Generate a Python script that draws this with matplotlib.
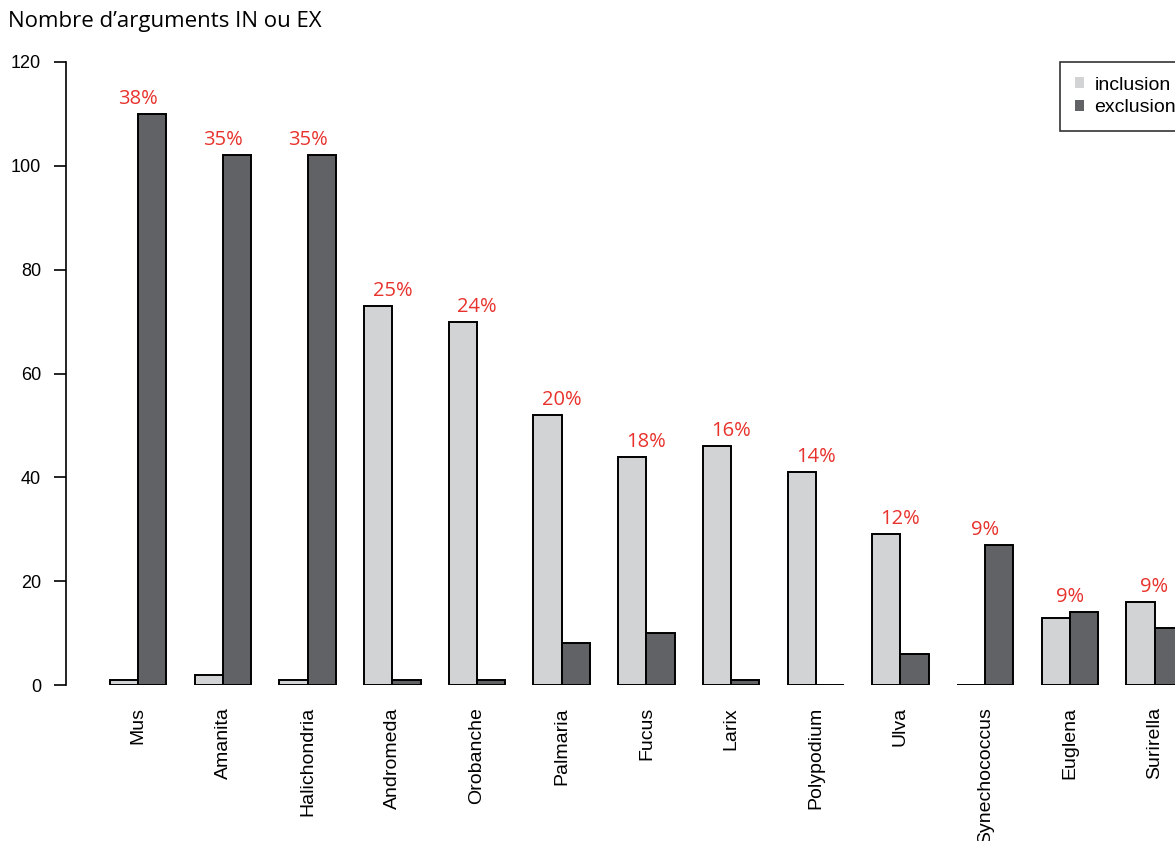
import numpy as np
import matplotlib.pyplot as plt
from matplotlib.patches import Patch

genres = ["Mus", "Amanita", "Halichondria", "Andromeda", "Orobanche", "Palmaria",
          "Fucus", "Larix", "Polypodium", "Ulva", "Synechococcus", "Euglena", "Surirella"]
inclusion = [1, 2, 1, 73, 70, 52, 44, 46, 41, 29, 0, 13, 16]
exclusion = [110, 102, 102, 1, 1, 8, 10, 1, 0, 6, 27, 14, 11]
pourcents = ["38%", "35%", "35%", "25%", "24%", "20%", "18%", "16%", "14%", "12%", "9%", "9%", "9%"]

col_in = "#d2d3d5"
col_ex = "#616266"

W, H = 1175, 841
fig = plt.figure(figsize=(W / 100, H / 100), dpi=100)
ax = fig.add_axes([66 / W, 1 - 685 / H, (W - 66) / W, (685 - 62) / H])

n = len(genres)
x = np.arange(n) * 3 + 1  # comme barplot(beside=TRUE) de R, space=c(0,1)
ax.bar(x, inclusion, width=1, align="edge", color=col_in, edgecolor="black", linewidth=1.4)
ax.bar(x + 1, exclusion, width=1, align="edge", color=col_ex, edgecolor="black", linewidth=1.4)

for i in range(n):
    top = max(inclusion[i], exclusion[i])
    ax.text(x[i] + 1, top + 2.9, pourcents[i], color="#e8332d", fontsize=14.5,
            family="Open Sans", ha="center", va="center", clip_on=False)

ax.set_xlim(-0.56, (W - 81.8) / 28.23)
ax.set_ylim(0, 120)
ax.set_yticks(np.arange(0, 121, 20))
ax.tick_params(axis="y", length=9, width=1.2, pad=9, labelsize=13)
for lab in ax.get_yticklabels():
    lab.set_family("Liberation Sans")
ax.set_xticks(x + 1)
ax.set_xticklabels(genres, rotation=90, fontsize=14, family="Liberation Sans", va="top")
ax.tick_params(axis="x", length=0, pad=16)
for s in ["top", "right", "bottom"]:
    ax.spines[s].set_visible(False)
ax.spines["left"].set_linewidth(1.2)

fig.text(8 / W, 1 - 22 / H, "Nombre d\u2019arguments IN ou EX", fontsize=16,
         family="Open Sans", va="center", ha="left")

handles = [Patch(facecolor=col_in, edgecolor="none", label="inclusion"),
           Patch(facecolor=col_ex, edgecolor="none", label="exclusion")]
leg = fig.legend(handles=handles, loc="upper left", bbox_to_anchor=(1060 / W, 1 - 62 / H),
                 frameon=True, fancybox=False, handlelength=0.48, handleheight=0.48,
                 handletextpad=0.55, borderpad=0.75, labelspacing=0.3, borderaxespad=0,
                 prop={"family": "Liberation Sans", "size": 14})
leg.get_frame().set_edgecolor("black")
leg.get_frame().set_linewidth(1.2)

fig.savefig("out.png", dpi=100)
